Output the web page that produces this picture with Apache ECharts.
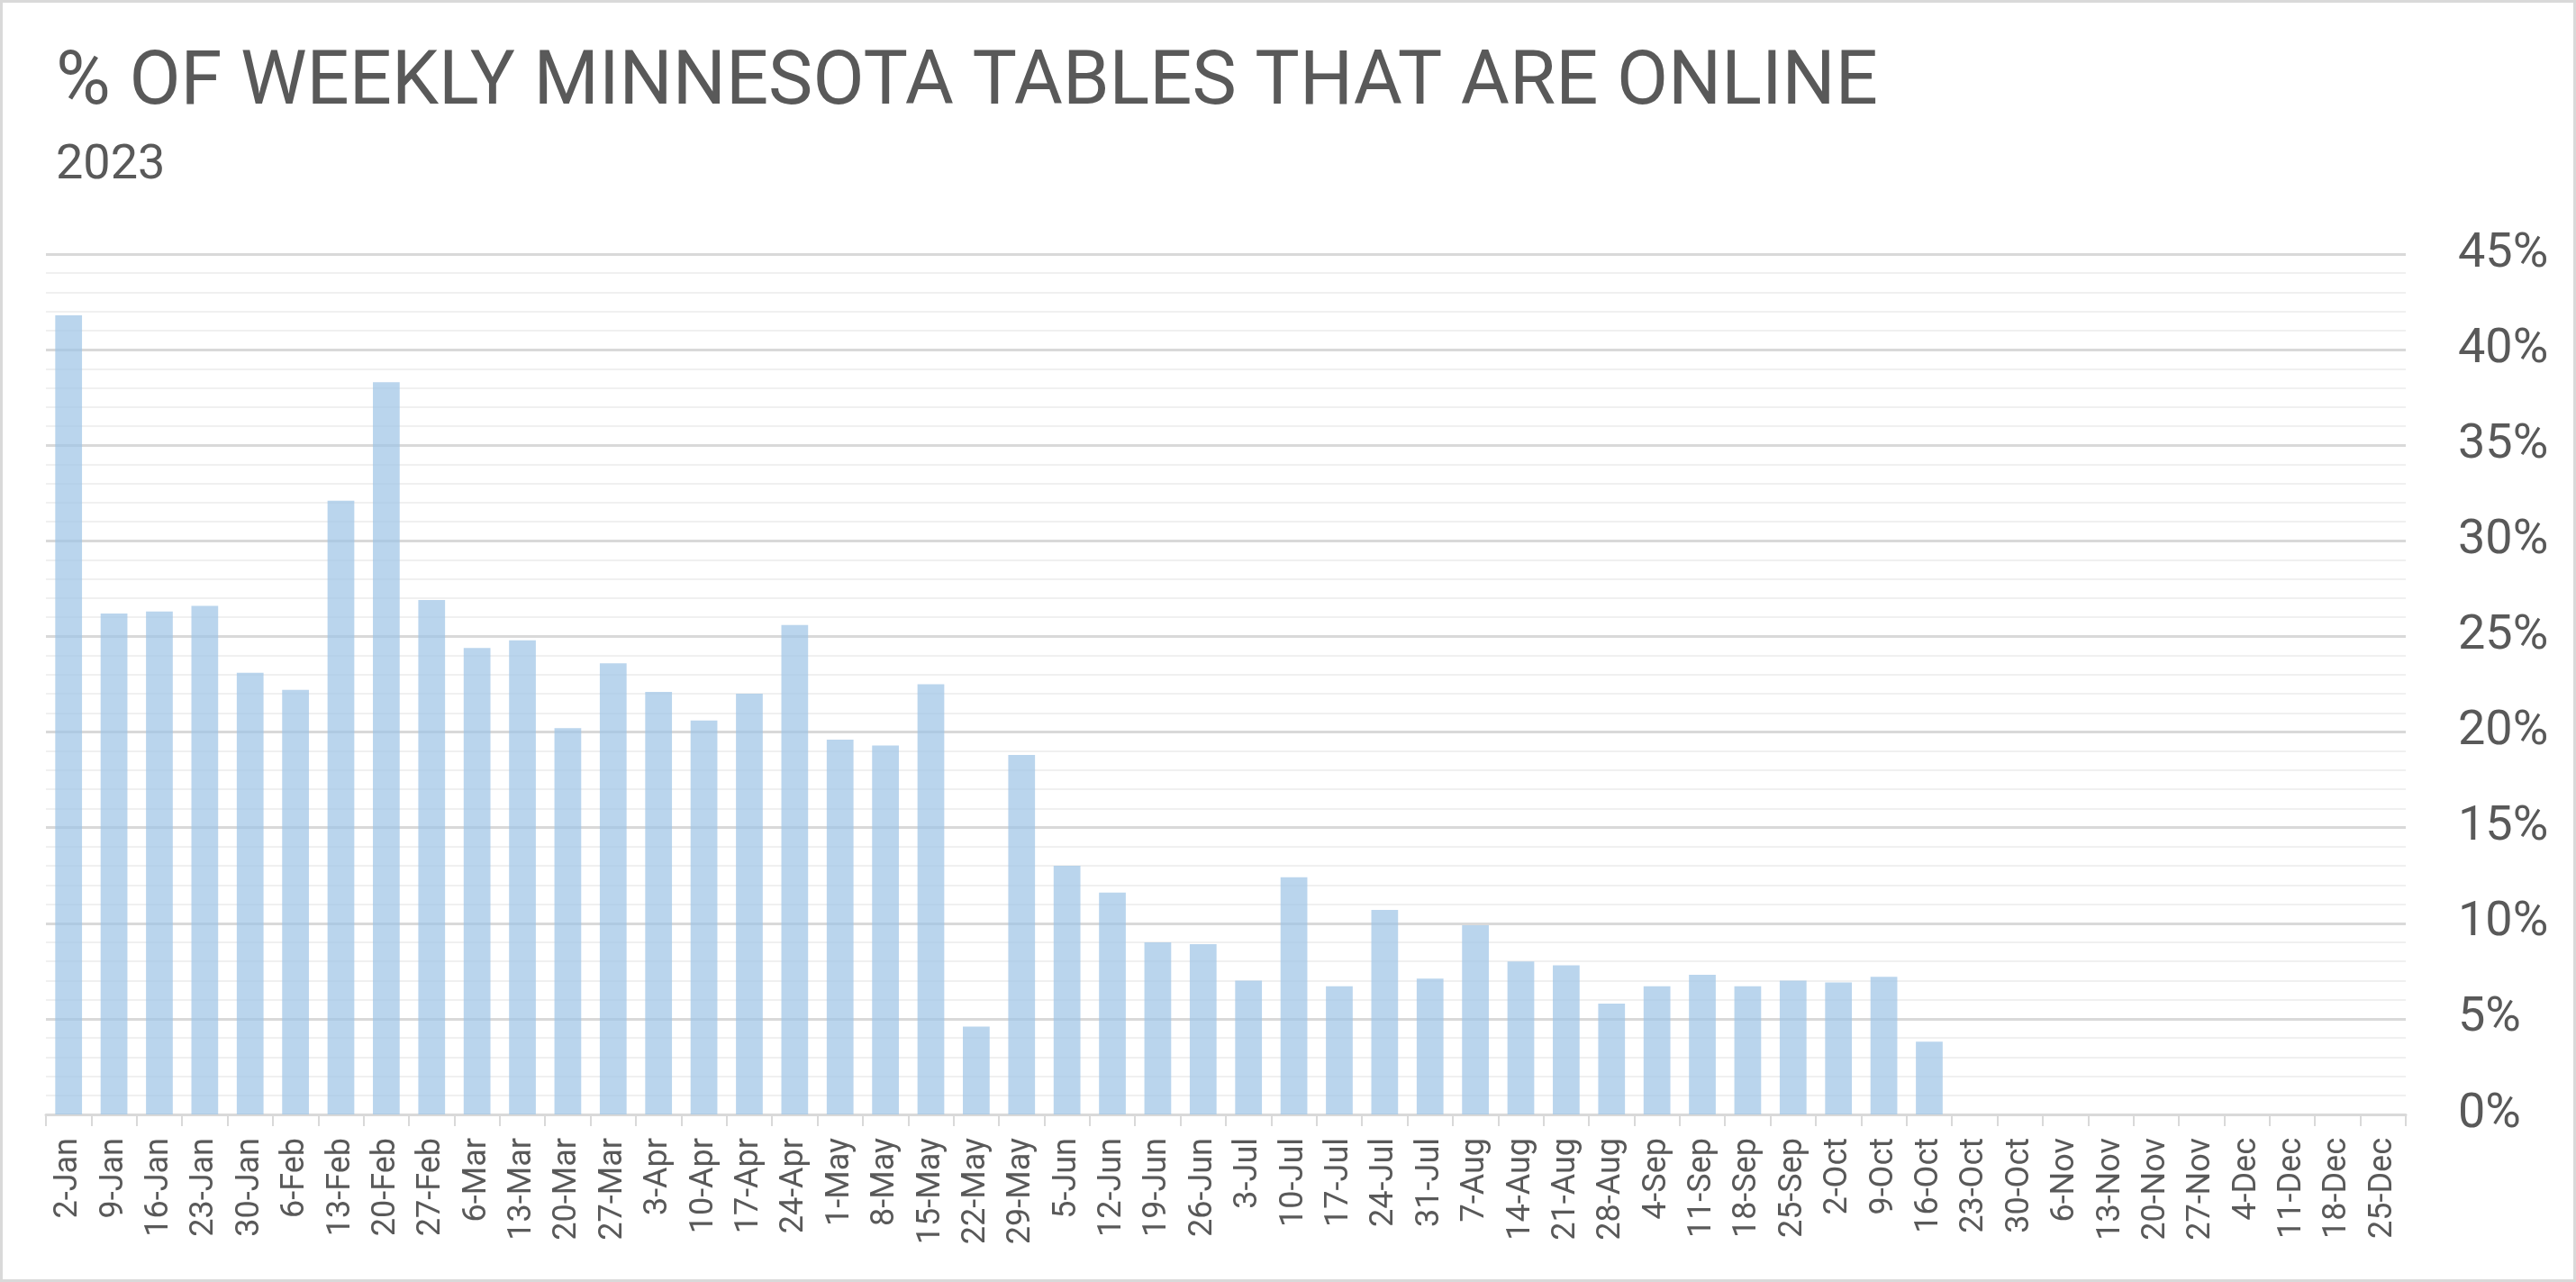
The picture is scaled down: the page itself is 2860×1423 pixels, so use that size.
<!DOCTYPE html>
<html>
<head>
<meta charset="utf-8">
<script src="https://cdn.jsdelivr.net/npm/echarts@6/dist/echarts.min.js"></script>
<style>
html,body{margin:0;padding:0;background:#fff;}
#chart{width:2860px;height:1423px;}
</style>
</head>
<body>
<div id="chart"></div>
<script>
const titleText = '% OF WEEKLY MINNESOTA TABLES THAT ARE ONLINE';
const subtitleText = '2023';
const weeks = ['2-Jan','9-Jan','16-Jan','23-Jan','30-Jan','6-Feb','13-Feb','20-Feb','27-Feb','6-Mar','13-Mar','20-Mar','27-Mar','3-Apr','10-Apr','17-Apr','24-Apr','1-May','8-May','15-May','22-May','29-May','5-Jun','12-Jun','19-Jun','26-Jun','3-Jul','10-Jul','17-Jul','24-Jul','31-Jul','7-Aug','14-Aug','21-Aug','28-Aug','4-Sep','11-Sep','18-Sep','25-Sep','2-Oct','9-Oct','16-Oct','23-Oct','30-Oct','6-Nov','13-Nov','20-Nov','27-Nov','4-Dec','11-Dec','18-Dec','25-Dec'];
const onlinePct = [41.8,26.2,26.3,26.6,23.1,22.2,32.1,38.3,26.9,24.4,24.8,20.2,23.6,22.1,20.6,22.0,25.6,19.6,19.3,22.5,4.6,18.8,13.0,11.6,9.0,8.9,7.0,12.4,6.7,10.7,7.1,9.9,8.0,7.8,5.8,6.7,7.3,6.7,7.0,6.9,7.2,3.8,null,null,null,null,null,null,null,null,null,null];
const yTicks = {min:0, max:45, interval:5};

const chart = echarts.init(document.getElementById('chart'));
chart.setOption({
  backgroundColor:'#ffffff',
  animation:false,
  graphic:[{type:'rect',silent:true,z:-10,shape:{x:1.5,y:1.5,width:2857,height:1420},style:{fill:null,stroke:'#d9d9d9',lineWidth:3}}],
  title:[
    {text:titleText,left:57,top:48,textStyle:{fontFamily:'Roboto',fontSize:83,fontWeight:'normal',color:'#595959'}},
    {text:subtitleText,left:57,top:152,textStyle:{fontFamily:'Roboto',fontSize:54,fontWeight:'normal',color:'#595959'}}
  ],
  grid:{left:51,right:189,top:282,bottom:186,containLabel:false},
  xAxis:{
    type:'category',
    data:weeks,
    axisLine:{show:true,lineStyle:{color:'#d9d9d9',width:3}},
    axisTick:{show:true,alignWithLabel:false,length:13,lineStyle:{color:'#d9d9d9',width:2}},
    axisLabel:{rotate:90,interval:0,margin:26,fontFamily:'Roboto',fontSize:36,color:'#595959'},
    splitLine:{show:false}
  },
  yAxis:{
    type:'value',
    position:'right',
    min:yTicks.min,max:yTicks.max,interval:yTicks.interval,
    axisLine:{show:false},
    axisTick:{show:false},
    axisLabel:{margin:58,fontFamily:'Roboto',fontSize:54,color:'#595959',formatter:'{value}%'},
    splitLine:{show:true,lineStyle:{color:'#d9d9d9',width:3}},
    minorTick:{show:false,splitNumber:5},
    minorSplitLine:{show:true,lineStyle:{color:'#f0f0f0',width:2}}
  },
  series:[{
    type:'bar',
    data:onlinePct,
    barCategoryGap:'41%',
    itemStyle:{color:'#9DC3E6',opacity:0.7}
  }]
});
</script>
</body>
</html>
